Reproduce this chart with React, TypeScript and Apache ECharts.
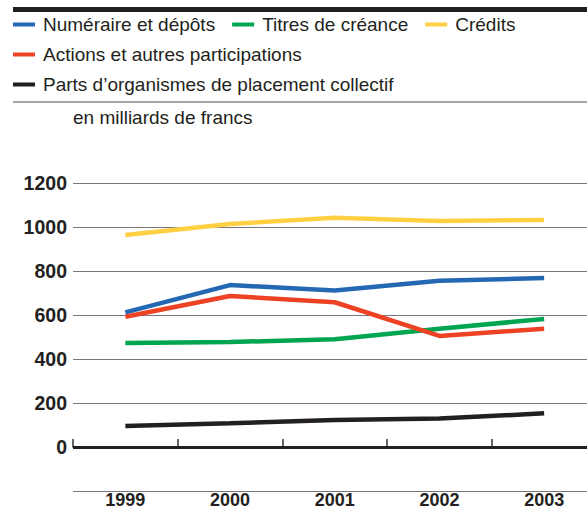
import React, { useEffect, useRef } from "react";
import * as echarts from "echarts";

const years = [1999, 2000, 2001, 2002, 2003];
const numeraire = [612, 736, 711, 756, 768];
const titres = [473, 477, 490, 538, 582];
const credits = [964, 1014, 1042, 1027, 1032];
const actions = [592, 686, 658, 505, 538];
const parts = [95, 108, 123, 129, 153];

const names = [
  "Numéraire et dépôts",
  "Titres de créance",
  "Crédits",
  "Actions et autres participations",
  "Parts d’organismes de placement collectif",
];
const colors = ["#2468b4", "#00a551", "#ffcf44", "#ee4224", "#231f20"];
const seriesData = [numeraire, titres, credits, actions, parts];
const bandEdges = [1998.5, 1999.5, 2000.5, 2001.5, 2002.5];

const FONT = "'Liberation Sans', Arial, sans-serif";
const TXT = "#231f20";

export default function App() {
  const ref = useRef<HTMLDivElement>(null);
  useEffect(() => {
    document.body.style.margin = "0";
    document.body.style.overflow = "hidden";
    if (!ref.current) return;
    const chart = echarts.init(ref.current, undefined, { renderer: "svg", width: 587, height: 511 });
    const legendBase = {
      left: 13,
      orient: "horizontal",
      icon: "rect",
      itemWidth: 22,
      itemHeight: 4,
      itemGap: 17,
      padding: 0,
      selectedMode: false,
      textStyle: { fontSize: 19, color: TXT, fontFamily: FONT, padding: [0, 0, 0, 3] },
    };
    const gridLeft = 73;
    const bandPx = 104.7;
    const xMax = 1998.5 + (587 - gridLeft) / bandPx;
    chart.setOption({
      animation: false,
      backgroundColor: "#ffffff",
      textStyle: { fontFamily: FONT },
      legend: [
        { ...legendBase, top: 15, data: names.slice(0, 3) },
        { ...legendBase, top: 45, data: [names[3]] },
        { ...legendBase, top: 75, data: [names[4]] },
      ],
      graphic: [
        { type: "rect", shape: { x: 13, y: 7, width: 574, height: 5 }, style: { fill: TXT } },
        { type: "line", shape: { x1: 13, y1: 102, x2: 587, y2: 102 }, style: { stroke: "#888", lineWidth: 1.5 } },
        {
          type: "text",
          x: 73,
          y: 117,
          style: { text: "en milliards de francs", fill: TXT, font: `19px ${FONT}`, verticalAlign: "middle" },
        },
      ],
      grid: { left: gridLeft, right: 0, top: 183, bottom: 20, containLabel: false, outerBoundsMode: "none" },
      xAxis: {
        type: "value",
        min: 1998.5,
        max: xMax,
        splitLine: { show: false },
        axisLine: { lineStyle: { color: "#333", width: 1.5 } },
        axisTick: {
          show: true,
          inside: true,
          length: 8,
          customValues: bandEdges,
          lineStyle: { color: "#333", width: 1.5 },
        },
        axisLabel: {
          customValues: years,
          fontSize: 18,
          lineHeight: 14,
          fontWeight: "bold",
          color: TXT,
          fontFamily: FONT,
          margin: 2,
          formatter: (v: number) => String(Math.round(v)),
        },
      },
      yAxis: {
        type: "value",
        min: -200,
        max: 1200,
        interval: 200,
        axisLine: { show: false },
        axisTick: { show: false },
        axisLabel: {
          fontSize: 19.5,
          fontWeight: "bold",
          color: TXT,
          fontFamily: FONT,
          margin: 6,
          formatter: (v: number) => (v < 0 ? "" : String(v)),
        },
        splitLine: { lineStyle: { color: "#777", width: 1.2 } },
      },
      series: names.map((n, i) => ({
        name: n,
        type: "line",
        data: seriesData[i].map((v, k) => [years[k], v]),
        symbol: "none",
        color: colors[i],
        lineStyle: { width: 4.5, color: colors[i] },
        z: 3,
        ...(i === 0
          ? {
              markLine: {
                silent: true,
                symbol: "none",
                label: { show: false },
                lineStyle: { color: TXT, width: 3, type: "solid" },
                data: [{ yAxis: 0 }],
                z: 2,
              },
            }
          : {}),
      })),
    });
    return () => chart.dispose();
  }, []);
  return (
    <div
      ref={ref}
      style={{ position: "fixed", left: 0, top: 0, width: 587, height: 511, overflow: "hidden" }}
    />
  );
}
